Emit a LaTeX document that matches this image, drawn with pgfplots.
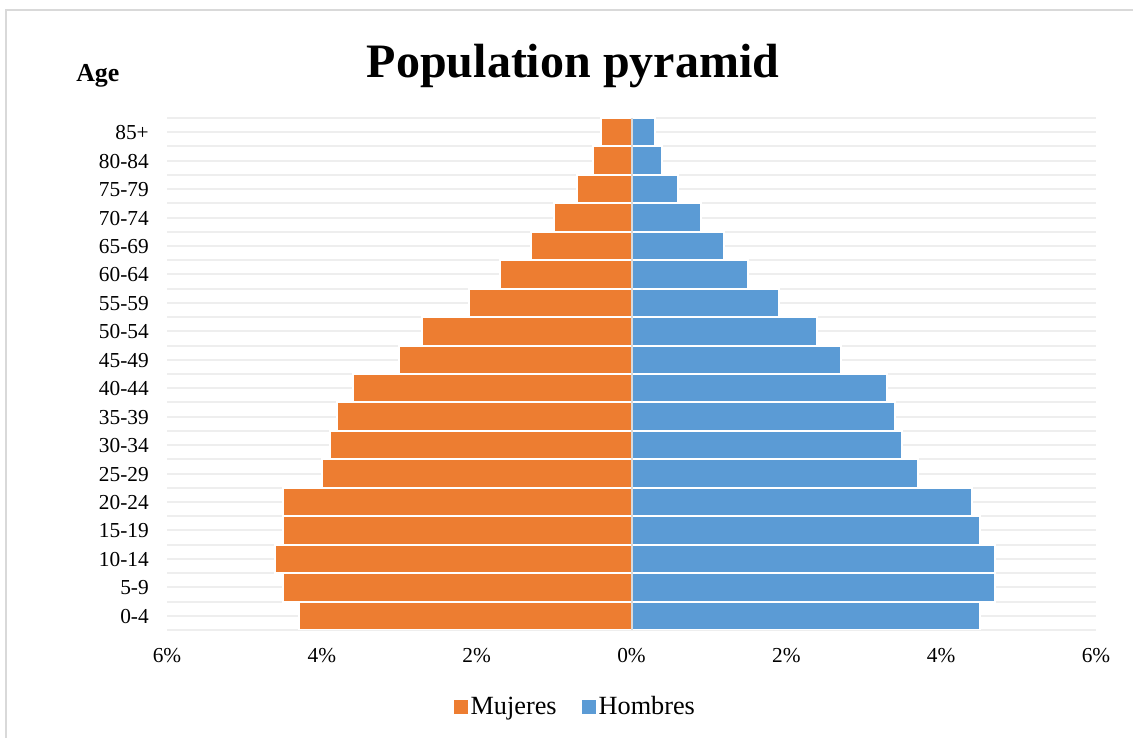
\documentclass[border=0pt]{standalone}
\usepackage{pgfplots}
\pgfplotsset{compat=1.18}
\usepackage{fontspec}
\setmainfont{Liberation Serif}

\definecolor{mujer}{HTML}{ED7D31}
\definecolor{hombre}{HTML}{5B9BD5}
\definecolor{gridc}{HTML}{EEEEEE}
\definecolor{framec}{HTML}{D9D9D9}

\begin{document}
\begin{tikzpicture}[x=0.75pt,y=0.75pt]
\useasboundingbox (0,0) rectangle (1133,738);
\fill[white] (0,0) rectangle (1133,738);
% chart frame
\draw[framec, line width=1.5pt] (6,0) -- (6,728) -- (1133,728);
% titles
\node[anchor=base, inner sep=0pt, font=\fontsize{36}{40}\selectfont\bfseries] at (573,660) {Population pyramid};
\node[anchor=base west, inner sep=0pt, font=\fontsize{19.4}{22}\selectfont\bfseries] at (76,656) {Age};

\begin{axis}[
  at={(125.25pt,81pt)}, anchor=south west,
  scale only axis, width=696.75pt, height=384pt,
  xmin=-6, xmax=6, ymin=-0.5, ymax=17.5,
  axis line style={draw=none},
  major tick length=0pt, minor tick length=0pt,
  xtick={-6,-4,-2,0,2,4,6},
  xticklabels={6\%,4\%,2\%,0\%,2\%,4\%,6\%},
  ytick={0,...,17},
  yticklabels={0-4,5-9,10-14,15-19,20-24,25-29,30-34,35-39,40-44,45-49,50-54,55-59,60-64,65-69,70-74,75-79,80-84,85+},
  minor ytick={-0.5,0.5,...,17.5},
  ymajorgrids, yminorgrids,
  major grid style={gridc, line width=1.5pt},
  minor grid style={gridc, line width=1.5pt},
  tick label style={font=\fontsize{16}{18}\selectfont},
  xticklabel style={anchor=base, inner sep=0pt, yshift=-24.75pt},
  yticklabel style={anchor=base east, inner sep=0pt, xshift=-13.5pt, yshift=-5.6pt},
  legend columns=2,
  legend style={at={(0.440,-0.150)}, anchor=center, draw=none, fill=none,
    font=\fontsize{19.7}{22}\selectfont,
    /tikz/every even column/.append style={column sep=17pt}},
  legend image code/.code={\fill[#1,draw=none] (-2pt,-5.25pt) rectangle (8.5pt,5.25pt);},
]
% women, plotted to the left
\addplot[xbar, bar width=1, bar shift=0pt, fill=mujer, draw=white, line width=1.5pt]
  coordinates {
    (-4.3,0) (-4.5,1) (-4.6,2) (-4.5,3) (-4.5,4) (-4.0,5) (-3.9,6) (-3.8,7) (-3.6,8)
    (-3.0,9) (-2.7,10) (-2.1,11) (-1.7,12) (-1.3,13) (-1.0,14) (-0.7,15) (-0.5,16) (-0.4,17)
  };
\addlegendentry{Mujeres}
% men, plotted to the right
\addplot[xbar, bar width=1, bar shift=0pt, fill=hombre, draw=white, line width=1.5pt]
  coordinates {
    (4.5,0) (4.7,1) (4.7,2) (4.5,3) (4.4,4) (3.7,5) (3.5,6) (3.4,7) (3.3,8)
    (2.7,9) (2.4,10) (1.9,11) (1.5,12) (1.2,13) (0.9,14) (0.6,15) (0.4,16) (0.3,17)
  };
\addlegendentry{Hombres}
\draw[framec, line width=1.5pt] (axis cs:0,-0.5) -- (axis cs:0,17.5);
\end{axis}
\end{tikzpicture}
\end{document}
